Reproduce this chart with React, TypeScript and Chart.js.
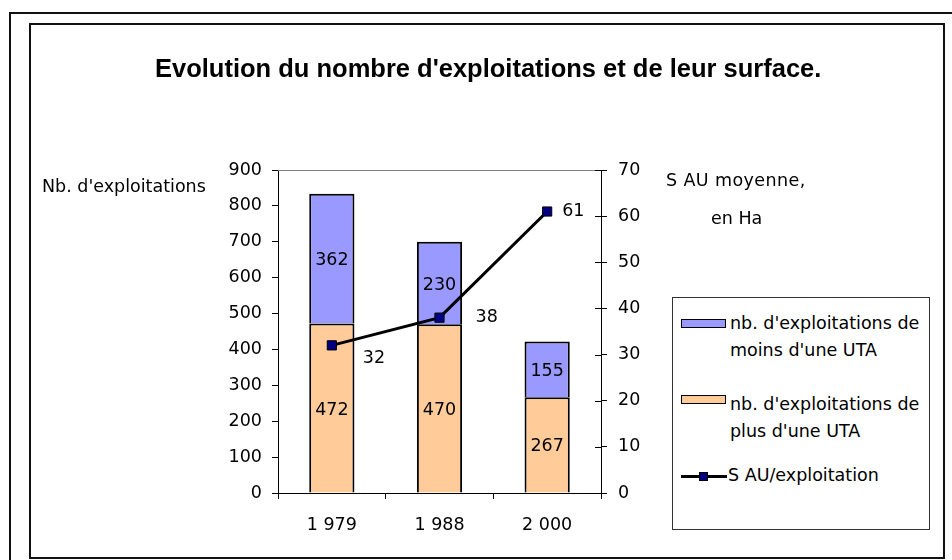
import React, { useEffect, useRef } from 'react';
import { Chart, registerables } from 'chart.js';

Chart.register(...registerables);

const categories = ['1 979', '1 988', '2 000'];
const plusUneUTA = [472, 470, 267];
const moinsUneUTA = [362, 230, 155];
const sauParExploitation = [32, 38, 61];

const leftAxis = { min: 0, max: 900, step: 100 };
const rightAxis = { min: 0, max: 70, step: 10 };

const titleText = "Evolution du nombre d'exploitations et de leur surface.";
const leftAxisTitle = "Nb. d'exploitations";
const rightAxisTitle = ['S AU moyenne,', 'en Ha'];
const seriesNames = {
  moins: ["nb. d'exploitations de", "moins d'une UTA"],
  plus: ["nb. d'exploitations de", "plus d'une UTA"],
  sau: 'S AU/exploitation',
};

const FONT = '"DejaVu Sans", Verdana, sans-serif';
const FS = 17.5;
const BLUE = '#9999FF';
const ORANGE = '#FFCC99';
const NAVY = '#000080';

// label placements for the line values (dx from point to label's left edge, dy of label centre)
const lineLabelOffsets = [
  [31, 13],
  [36, 0],
  [15, 0],
];

const decorPlugin = {
  id: 'decor',
  afterDraw(chart: any) {
    const { ctx, chartArea } = chart;
    ctx.save();
    // grey top border of plot area
    ctx.strokeStyle = '#808080';
    ctx.lineWidth = 1;
    ctx.beginPath();
    ctx.moveTo(chartArea.left, chartArea.top + 0.5);
    ctx.lineTo(chartArea.right, chartArea.top + 0.5);
    ctx.stroke();
    // inner tick marks on right axis
    const y1 = chart.scales.y1;
    ctx.strokeStyle = '#000';
    y1.ticks.forEach((t: any) => {
      const y = Math.round(y1.getPixelForValue(t.value)) + 0.5;
      ctx.beginPath();
      ctx.moveTo(chartArea.right - 6, y);
      ctx.lineTo(chartArea.right, y);
      ctx.stroke();
    });
    // data labels
    ctx.fillStyle = '#000';
    ctx.font = `${FS}px ${FONT}`;
    ctx.textBaseline = 'middle';
    chart.data.datasets.forEach((ds: any, di: number) => {
      const meta = chart.getDatasetMeta(di);
      if (ds.type === 'line') {
        ctx.textAlign = 'left';
        meta.data.forEach((el: any, i: number) => {
          const off = lineLabelOffsets[i];
          ctx.fillText(String(ds.data[i]), el.x + off[0], el.y + off[1]);
        });
      } else {
        ctx.textAlign = 'center';
        meta.data.forEach((el: any, i: number) => {
          ctx.fillText(String(ds.data[i]), el.x, (el.y + el.base) / 2 + 2);
        });
      }
    });
    ctx.restore();
  },
};

export default function App() {
  const ref = useRef<HTMLCanvasElement | null>(null);

  useEffect(() => {
    if (!ref.current) return;
    const font = { family: FONT, size: FS };
    const barBorder = { top: 2, left: 2, right: 2, bottom: 0 };
    const chart = new Chart(ref.current, {
      type: 'bar',
      data: {
        labels: categories,
        datasets: [
          {
            type: 'line',
            label: seriesNames.sau,
            data: sauParExploitation,
            yAxisID: 'y1',
            borderColor: '#000',
            borderWidth: 3,
            pointStyle: 'rect',
            pointRadius: 6.5,
            pointBackgroundColor: NAVY,
            pointBorderColor: '#000',
            pointBorderWidth: 1,
            tension: 0,
            order: 0,
          } as any,
          {
            type: 'bar',
            label: seriesNames.plus.join(' '),
            data: plusUneUTA,
            backgroundColor: ORANGE,
            borderColor: '#000',
            borderWidth: barBorder,
            borderSkipped: false,
            stack: 's',
            yAxisID: 'y',
            order: 1,
          },
          {
            type: 'bar',
            label: seriesNames.moins.join(' '),
            data: moinsUneUTA,
            backgroundColor: BLUE,
            borderColor: '#000',
            borderWidth: barBorder,
            borderSkipped: false,
            stack: 's',
            yAxisID: 'y',
            order: 1,
          },
        ],
      },
      options: {
        responsive: false,
        animation: false,
        events: [],
        datasets: { bar: { categoryPercentage: 1, barPercentage: 0.42 } },
        layout: { padding: { left: 228, top: 170, right: 291, bottom: 27 } },
        plugins: { legend: { display: false }, tooltip: { enabled: false }, title: { display: false } },
        scales: {
          x: {
            stacked: true,
            offset: true,
            grid: { display: true, drawOnChartArea: false, drawTicks: true, tickLength: 6, color: '#000', offset: true },
            border: { display: true, color: '#000', width: 1 },
            ticks: { color: '#000', font, padding: 16, maxRotation: 0 },
            afterFit: (s: any) => { s.height = 40; },
          },
          y: {
            stacked: true,
            position: 'left',
            min: leftAxis.min,
            max: leftAxis.max,
            grid: { display: true, drawOnChartArea: false, drawTicks: true, tickLength: 6, color: '#000' },
            border: { display: true, color: '#000', width: 1 },
            ticks: { stepSize: leftAxis.step, color: '#000', font, padding: 10 },
            afterFit: (s: any) => { s.width = 50; },
          },
          y1: {
            position: 'right',
            min: rightAxis.min,
            max: rightAxis.max,
            grid: { display: true, drawOnChartArea: false, drawTicks: true, tickLength: 6, color: '#000' },
            border: { display: true, color: '#000', width: 1 },
            ticks: { stepSize: rightAxis.step, color: '#000', font, padding: 11 },
            afterFit: (s: any) => { s.width = 60; },
          },
        },
      } as any,
      plugins: [decorPlugin],
    });
    return () => chart.destroy();
  }, []);

  const txt = (left: number, baseline: number, content: string, extra: any = {}) => (
    <div
      style={{
        position: 'absolute',
        left,
        top: baseline - FS * 0.846,
        fontFamily: FONT,
        fontSize: FS,
        lineHeight: `${FS}px`,
        whiteSpace: 'nowrap',
        color: '#000',
        ...extra,
      }}
    >
      {content}
    </div>
  );

  return (
    <div style={{ position: 'absolute', left: 0, top: 0, width: 952, height: 560, overflow: 'hidden', background: '#fff' }}>
      <div style={{ position: 'absolute', left: 9, top: 12, width: 980, height: 600, border: '2px solid #111', boxSizing: 'border-box' }} />
      <div style={{ position: 'absolute', left: 29, top: 23, width: 916, height: 536, border: '2px solid #111', boxSizing: 'border-box' }} />
      <canvas ref={ref} width={952} height={560} style={{ position: 'absolute', left: 0, top: 0, width: 952, height: 560 }} />
      <div
        style={{
          position: 'absolute',
          left: 155,
          top: 55,
          fontFamily: '"Liberation Sans", Arial, sans-serif',
          fontWeight: 'bold',
          fontSize: 25.5,
          lineHeight: '26px',
          whiteSpace: 'nowrap',
          color: '#000',
        }}
      >
        {titleText}
      </div>
      {txt(42, 193, leftAxisTitle)}
      {txt(666, 187, rightAxisTitle[0], { letterSpacing: '0.4px' })}
      {txt(711, 225, rightAxisTitle[1])}
      <div style={{ position: 'absolute', left: 672, top: 297, width: 258, height: 233, border: '1px solid #333', boxSizing: 'border-box', background: '#fff' }} />
      <div style={{ position: 'absolute', left: 681, top: 319, width: 45, height: 9, background: BLUE, border: '1px solid #000', boxSizing: 'border-box' }} />
      {txt(730, 330, seriesNames.moins[0])}
      {txt(730, 357, seriesNames.moins[1])}
      <div style={{ position: 'absolute', left: 681, top: 395, width: 45, height: 9, background: ORANGE, border: '1px solid #000', boxSizing: 'border-box' }} />
      {txt(730, 411, seriesNames.plus[0])}
      {txt(730, 438, seriesNames.plus[1])}
      <div style={{ position: 'absolute', left: 681, top: 475, width: 46, height: 3, background: '#000' }} />
      <div style={{ position: 'absolute', left: 699, top: 472, width: 9, height: 9, background: NAVY, border: '1px solid #000', boxSizing: 'border-box' }} />
      {txt(728, 482, seriesNames.sau)}
    </div>
  );
}
